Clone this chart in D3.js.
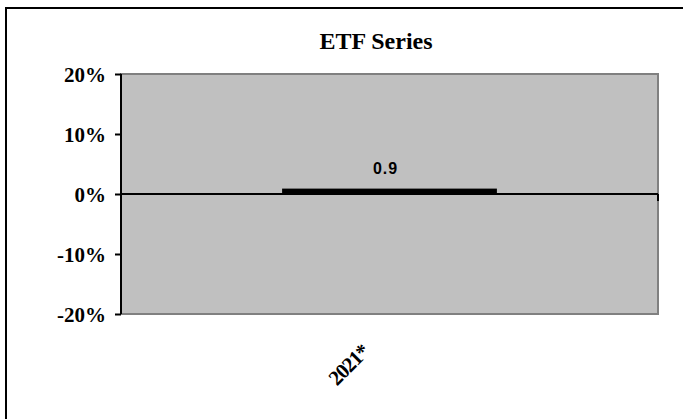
<!DOCTYPE html>
<html>
<head>
<meta charset="utf-8">
<script src="https://cdn.jsdelivr.net/npm/d3@7"></script>
<style>
  html, body { margin: 0; padding: 0; background: #fff; }
  svg { display: block; }
  .serif { font-family: "Liberation Serif", "Times New Roman", "DejaVu Serif", serif; font-weight: bold; }
  .sans { font-family: "Liberation Sans", Arial, "DejaVu Sans", sans-serif; font-weight: bold; }
</style>
</head>
<body>
<svg id="chart" width="683" height="419"></svg>
<script>
// Chart data
const categories = ["2021*"];
const values = [0.9];             // percent
const yTicks = [-20, -10, 0, 10, 20];
const yTickLabels = ["-20%", "-10%", "0%", "10%", "20%"];
const title = "ETF Series";

const svg = d3.select("#chart");
const W = 683, H = 419;
const plot = { left: 121, top: 74, right: 658, bottom: 314 };

// Outer chart frame (runs off the right and bottom edges)
svg.append("rect")
  .attr("x", 6).attr("y", 8)
  .attr("width", W).attr("height", H)
  .attr("fill", "none").attr("stroke", "#000").attr("stroke-width", 2);

const x = d3.scaleBand()
  .domain(categories)
  .range([plot.left, plot.right])
  .paddingInner(0.6)
  .paddingOuter(0.3);

const y = d3.scaleLinear()
  .domain([-20, 20])
  .range([plot.bottom, plot.top]);

// Plot area
svg.append("rect")
  .attr("x", plot.left).attr("y", plot.top)
  .attr("width", plot.right - plot.left).attr("height", plot.bottom - plot.top)
  .attr("fill", "#c0c0c0").attr("stroke", "#808080").attr("stroke-width", 2);

// Bars
svg.selectAll("rect.bar").data(values).join("rect")
  .attr("class", "bar")
  .attr("x", (d, i) => x(categories[i]))
  .attr("width", x.bandwidth())
  .attr("y", d => Math.min(y(d), y(0)))
  .attr("height", d => Math.abs(y(d) - y(0)))
  .attr("fill", "#000");

// Value labels
svg.selectAll("text.val").data(values).join("text")
  .attr("class", "val sans")
  .attr("x", (d, i) => x(categories[i]) + x.bandwidth() / 2 - 4)
  .attr("y", d => y(d) - 14.5)
  .attr("text-anchor", "middle")
  .attr("font-size", 16)
  .attr("letter-spacing", 1)
  .text(d => d.toFixed(1));

// Y axis
const yAxis = d3.axisLeft(y)
  .tickValues(yTicks)
  .tickFormat((d, i) => yTickLabels[i])
  .tickSize(6)
  .tickPadding(9);
const gy = svg.append("g")
  .attr("transform", `translate(${plot.left},0)`)
  .call(yAxis);
gy.attr("font-family", null).attr("font-size", null);
gy.select(".domain").attr("stroke", "#000").attr("stroke-width", 2)
  .attr("d", `M0,${plot.top}V${plot.bottom}`);
gy.selectAll(".tick line").attr("stroke", "#000").attr("stroke-width", 2);
gy.selectAll(".tick text")
  .attr("class", "serif")
  .attr("font-size", 21)
  .attr("fill", "#000")
  .attr("dy", "0.34em");

// Category axis along zero, ticks at band boundaries
const gx = svg.append("g").attr("transform", `translate(0,${y(0)})`);
gx.append("line")
  .attr("x1", plot.left).attr("x2", plot.right)
  .attr("stroke", "#000").attr("stroke-width", 2);
gx.selectAll("line.tick").data([plot.left, plot.right]).join("line")
  .attr("class", "tick")
  .attr("x1", d => d).attr("x2", d => d)
  .attr("y1", 0).attr("y2", 7)
  .attr("stroke", "#000").attr("stroke-width", 2);

// Rotated category labels below the plot
svg.selectAll("text.cat").data(categories).join("text")
  .attr("class", "cat serif")
  .attr("transform", d => `translate(${x(d) + x.bandwidth() / 2 - 19},${plot.bottom + 39}) rotate(-45)`)
  .attr("text-anchor", "end")
  .attr("font-size", 21)
  .attr("letter-spacing", -1)
  .text(d => d);

// Title
svg.append("text")
  .attr("class", "serif")
  .attr("x", 376).attr("y", 49)
  .attr("text-anchor", "middle")
  .attr("font-size", 24)
  .text(title);
</script>
</body>
</html>
